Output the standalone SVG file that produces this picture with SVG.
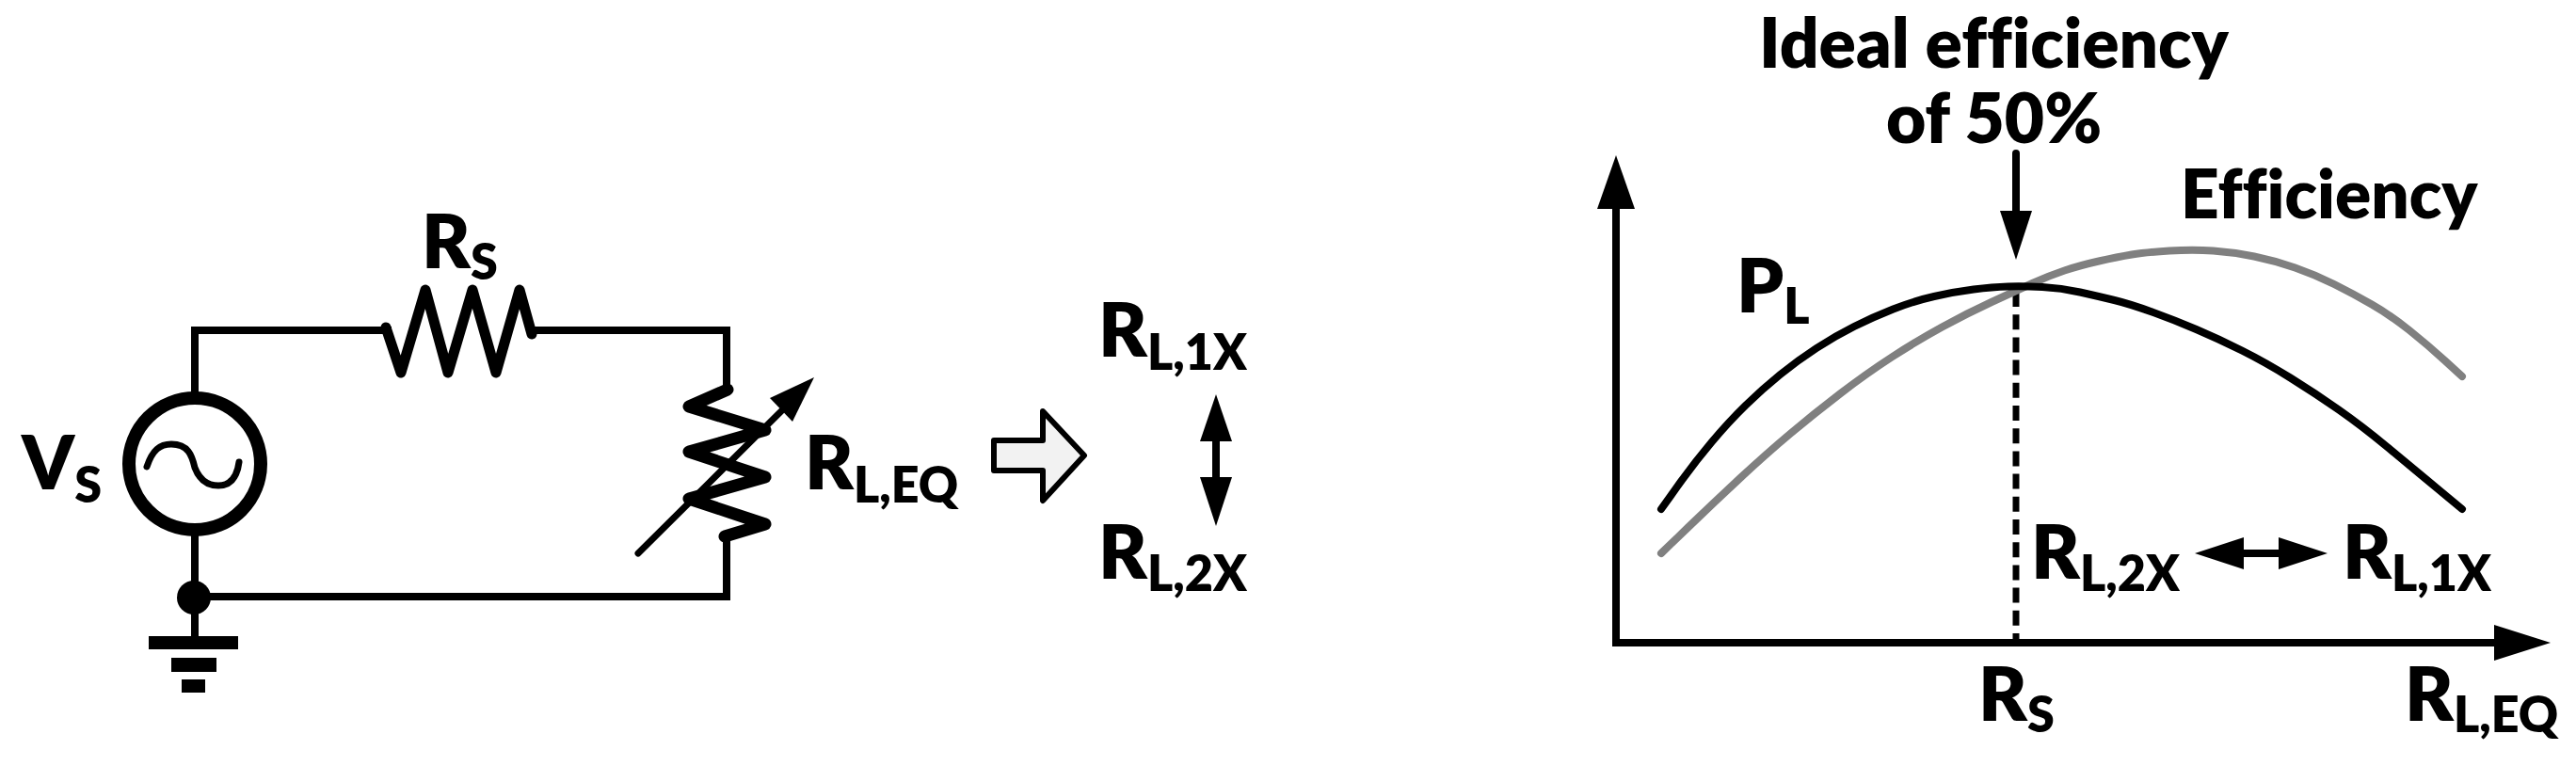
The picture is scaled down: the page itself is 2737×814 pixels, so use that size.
<svg xmlns="http://www.w3.org/2000/svg" width="2737" height="814" viewBox="0 0 2737 814">
<style>
text{font-family:Lato,"Open Sans",sans-serif;font-weight:800;fill:#000;font-variant-ligatures:none}
.m{font-size:79px}.s{font-size:52px}.t{font-size:73px}
.w{fill:none;stroke:#000;stroke-width:8;stroke-linecap:square}
.z{fill:none;stroke:#000;stroke-linejoin:round;stroke-linecap:round}
.k{fill:#000;stroke:none}
</style>
<rect width="2737" height="814" fill="#fff"/>
<g id="connectors">
<path class="w" d="M207 420V351H412M565 351H772V414M772 571V634H207M207 564V676"/>
<path class="w" d="M1292 460V516"/>
<path class="z" stroke-width="8" d="M2142 163V230"/>
<path class="w" d="M2380 588H2428"/>
<path d="M2142 310V683" fill="none" stroke="#000" stroke-width="7" stroke-dasharray="16 8.2"/>
</g>
<g id="vs-source">
<circle cx="207" cy="493" r="70" fill="#fff" stroke="#000" stroke-width="14"/>
<path d="M156 496C162 478 170 472 182 472C200 472 204 484 207 497C212 510 220 516 232 516C246 516 252 506 254 491" fill="none" stroke="#000" stroke-width="7" stroke-linecap="round"/>
<text x="23" y="520"><tspan class="m">V</tspan><tspan class="s" dy="14">S</tspan></text>
</g>
<g id="rs-resistor">
<path class="z" stroke-width="11" d="M410 348L426 396L452 308L476 396L502 308L527 396L552 308L565 355"/>
<text x="448" y="285"><tspan class="m">R</tspan><tspan class="s" dy="12">S</tspan></text>
</g>
<g id="rl-resistor">
<path class="z" stroke-width="13" d="M773 414L732 432L813 457L732 480L813 507L732 530L813 557L770 570"/>
<path class="z" stroke-width="7" d="M678 588L832 435"/>
<polygon class="k" points="865,401 842,448 818,423"/>
<text x="855" y="520"><tspan class="m">R</tspan><tspan class="s" dy="14">L,EQ</tspan></text>
</g>
<g id="ground">
<circle cx="206" cy="635" r="18" class="k"/>
<rect class="k" x="158" y="676" width="95" height="14"/>
<rect class="k" x="182" y="699" width="48" height="15"/>
<rect class="k" x="193" y="722" width="25" height="14"/>
</g>
<g id="block-arrow">
<polygon points="1056,468 1108,468 1108,437 1152,484 1108,532 1108,500 1056,500" fill="#f2f2f2" stroke="#000" stroke-width="6" stroke-linejoin="round"/>
</g>
<g id="rl-range">
<text x="1167" y="379"><tspan class="m">R</tspan><tspan class="s" dy="14">L,1X</tspan></text>
<polygon class="k" points="1292,419 1309,469 1275,469"/>
<polygon class="k" points="1292,559 1309,507 1275,507"/>
<text x="1167" y="615"><tspan class="m">R</tspan><tspan class="s" dy="13">L,2X</tspan></text>
</g>
<g id="chart-axes">
<path d="M1717 215V683H2660" fill="none" stroke="#000" stroke-width="8"/>
<polygon class="k" points="1717,165 1737,222 1697,222"/>
<polygon class="k" points="2710,683 2650,664 2650,702"/>
</g>
<g id="curve-efficiency">
<path d="M1765 588L1793.5 560.5Q1822 533 1849.5 507.5Q1877 482 1902 461Q1927 440 1955 418.5Q1983 397 2010 379.5Q2037 362 2063.5 347.5Q2090 333 2116 321Q2142 309 2159.5 301Q2177 293 2193.5 287.5Q2210 282 2230 277.5Q2250 273 2265 270.5Q2280 268 2305 266.5Q2330 265 2351.5 266.5Q2373 268 2395 272.5Q2417 277 2438.5 284.5Q2460 292 2480 302Q2500 312 2520 323.5Q2540 335 2560 351Q2580 367 2598 383.5L2616 400" fill="none" stroke="#808080" stroke-width="8" stroke-linecap="round"/>
<text class="t" style="font-size:71px" x="2317" y="232">Efficiency</text>
</g>
<g id="curve-pl">
<path d="M1765 541L1782.5 516.5Q1800 492 1818.5 470Q1837 448 1855 430.5Q1873 413 1891.5 398Q1910 383 1930 370Q1950 357 1970 347Q1990 337 2011.5 328.5Q2033 320 2055 315Q2077 310 2097 307.5Q2117 305 2133.5 304.5Q2150 304 2170 305Q2190 306 2210 310.5Q2230 315 2246.5 319Q2263 323 2286.5 331.5Q2310 340 2333.5 350Q2357 360 2382 372.5Q2407 385 2433.5 401.5Q2460 418 2485 435.5Q2510 453 2536.5 475Q2563 497 2589.5 519L2616 541" fill="none" stroke="#000" stroke-width="8" stroke-linecap="round"/>
<text x="1845" y="332"><tspan class="m">P</tspan><tspan class="s" dy="12">L</tspan></text>
</g>
<g id="ideal-label">
<text class="t" x="1869" y="72">Ideal efficiency</text>
<text class="t" x="2004" y="152">of 50%</text>
<polygon class="k" points="2142,276 2159,224 2125,224"/>
</g>
<g id="chart-range">
<text x="2158" y="615"><tspan class="m">R</tspan><tspan class="s" dy="13">L,2X</tspan></text>
<polygon class="k" points="2332,588 2384,571 2384,605"/>
<polygon class="k" points="2473,588 2421,571 2421,605"/>
<text x="2489" y="615"><tspan class="m">R</tspan><tspan class="s" dy="13">L,1X</tspan></text>
</g>
<g id="chart-x-labels">
<text x="2102" y="766"><tspan class="m">R</tspan><tspan class="s" dy="12">S</tspan></text>
<text x="2555" y="766"><tspan class="m">R</tspan><tspan class="s" dy="12">L,EQ</tspan></text>
</g>
</svg>
